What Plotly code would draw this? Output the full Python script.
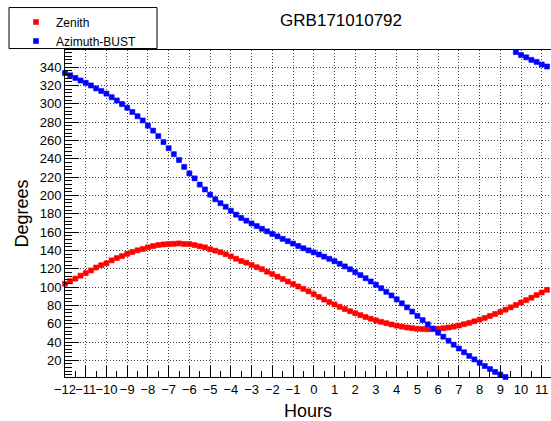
import plotly.graph_objects as go

# ---------------- data ----------------
hours = [
    -12.0, -11.75, -11.5, -11.25, -11.0, -10.75, -10.5, -10.25, -10.0, -9.75,
    -9.5, -9.25, -9.0, -8.75, -8.5, -8.25, -8.0, -7.75, -7.5, -7.25,
    -7.0, -6.75, -6.5, -6.25, -6.0, -5.75, -5.5, -5.25, -5.0, -4.75,
    -4.5, -4.25, -4.0, -3.75, -3.5, -3.25, -3.0, -2.75, -2.5, -2.25,
    -2.0, -1.75, -1.5, -1.25, -1.0, -0.75, -0.5, -0.25, 0.0, 0.25,
    0.5, 0.75, 1.0, 1.25, 1.5, 1.75, 2.0, 2.25, 2.5, 2.75,
    3.0, 3.25, 3.5, 3.75, 4.0, 4.25, 4.5, 4.75, 5.0, 5.25,
    5.5, 5.75, 6.0, 6.25, 6.5, 6.75, 7.0, 7.25, 7.5, 7.75,
    8.0, 8.25, 8.5, 8.75, 9.0, 9.25, 9.5, 9.75, 10.0, 10.25,
    10.5, 10.75, 11.0, 11.25, 11.5,
]

zenith = [
    103.5, 106.4, 109.2, 112.4, 115.2, 118.1, 121.3, 123.8, 125.9, 129.1,
    131.6, 133.7, 136.2, 138.3, 140.1, 141.5, 143.3, 144.7, 145.8, 146.5,
    146.9, 147.2, 147.6, 146.9, 146.9, 145.8, 144.4, 143.3, 141.2, 139.7,
    138.0, 135.8, 133.4, 130.9, 128.4, 126.6, 124.1, 121.6, 119.5, 116.7,
    114.2, 111.3, 108.8, 106.0, 103.2, 100.6, 98.0, 95.3, 92.1, 89.2,
    86.3, 83.6, 81.0, 78.4, 76.0, 73.6, 71.4, 69.3, 67.3, 65.4,
    63.6, 62.0, 60.5, 59.1, 57.9, 56.8, 55.8, 55.1, 54.5, 54.1,
    53.9, 54.0, 54.4, 55.0, 55.8, 56.8, 58.0, 59.4, 60.9, 62.6,
    64.4, 66.3, 68.4, 70.6, 72.9, 75.3, 77.8, 80.4, 83.0, 85.7,
    88.4, 91.2, 94.0, 96.9, 99.8,
]

azimuth = [
    333.6, 331.1, 328.2, 325.4, 322.9, 320.0, 316.8, 313.9, 311.1, 307.2,
    303.6, 299.7, 295.7, 291.1, 286.4, 281.8, 276.1, 270.7, 264.7, 258.2,
    251.5, 245.0, 238.6, 231.1, 224.0, 218.6, 211.8, 206.5, 200.8, 195.8,
    191.5, 187.6, 183.3, 179.0, 175.4, 172.4, 169.4, 166.5, 163.6, 160.8,
    158.0, 155.3, 152.6, 150.0, 147.4, 144.8, 142.3, 140.0, 137.8, 135.5,
    133.2, 130.8, 128.2, 125.4, 122.5, 119.4, 116.2, 113.0, 109.6, 106.1,
    102.5, 98.7, 94.8, 90.8, 86.6, 82.2, 77.8, 73.2, 68.5, 63.9,
    59.3, 54.7, 50.2, 45.8, 41.4, 37.1, 32.9, 28.8, 24.8, 21.0,
    17.3, 13.8, 10.5, 7.4, 4.5, 1.8, 359.3, 356.4, 353.2, 350.7,
    347.9, 345.7, 342.9, 340.7, 337.9,
]

series_names = ["Zenith", "Azimuth-BUST"]
series_colors = ["#ff0000", "#0000ff"]
title_text = "GRB171010792"
x_title = "Hours"
y_title = "Degrees"

# ---------------- figure ----------------
W, H = 551, 421
ML, MR, MT, MB = 65, 0, 49.5, 36.5
PW, PH = W - ML - MR, H - MT - MB

FONT = "Liberation Sans, Arial, Helvetica, sans-serif"

fig = go.Figure()
for name, ys, col in zip(series_names, [zenith, azimuth], series_colors):
    fig.add_trace(go.Scatter(
        x=hours, y=ys, mode="markers", name=name,
        marker=dict(symbol="square", size=5, color=col, line=dict(width=0.6, color=col)),
        cliponaxis=False,
    ))

def px2paper_x(px):
    return (px - ML) / PW

def px2paper_y(py):
    return (H - MB - py) / PH

fig.update_layout(
    width=W, height=H,
    margin=dict(l=ML, r=MR, t=MT, b=MB, pad=0),
    paper_bgcolor="white", plot_bgcolor="white",
    font=dict(family=FONT, color="black", size=13),
    title=dict(text=title_text, x=313 / W, xanchor="center", xref="paper",
               y=1 - 20 / H, yanchor="middle", yref="container",
               font=dict(size=17, family=FONT, color="black")),
    showlegend=True,
    legend=dict(
        x=px2paper_x(16), y=px2paper_y(6), xanchor="left", yanchor="top",
        bgcolor="rgba(0,0,0,0)", borderwidth=0,
        font=dict(size=12, family=FONT, color="black"),
        itemsizing="trace",
    ),
    shapes=[dict(type="rect", xref="paper", yref="paper",
                 x0=px2paper_x(9), x1=px2paper_x(157),
                 y0=px2paper_y(48), y1=px2paper_y(6),
                 line=dict(color="black", width=1), fillcolor="white", layer="below")],
)

fig.update_xaxes(
    range=[-12, -12 + PW / 20.73],
    dtick=1, tick0=0, tickangle=0,
    ticks="inside", ticklen=11, tickwidth=1, tickcolor="black",
    showline=True, linecolor="black", linewidth=1, mirror=True,
    showgrid=True, gridcolor="#444444", gridwidth=1, griddash="1px,2px",
    zeroline=False,
    minor=dict(dtick=0.5, ticks="inside", ticklen=6, tickwidth=1, tickcolor="black", showgrid=False),
    tickfont=dict(size=13, family=FONT, color="black"),
    title=dict(text=x_title, font=dict(size=18, family=FONT, color="black"), standoff=12),
)
fig.update_yaxes(
    range=[1.8, 358.7],
    dtick=20, tick0=0,
    ticks="inside", ticklen=14, tickwidth=1, tickcolor="black",
    showline=True, linecolor="black", linewidth=1, mirror=False,
    showgrid=True, gridcolor="#444444", gridwidth=1, griddash="1px,2px",
    zeroline=False,
    minor=dict(dtick=4, ticks="inside", ticklen=7, tickwidth=1, tickcolor="black", showgrid=False),
    tickfont=dict(size=13, family=FONT, color="black"),
    title=dict(text=y_title, font=dict(size=18, family=FONT, color="black"), standoff=6),
)

fig.write_html("out.html")
